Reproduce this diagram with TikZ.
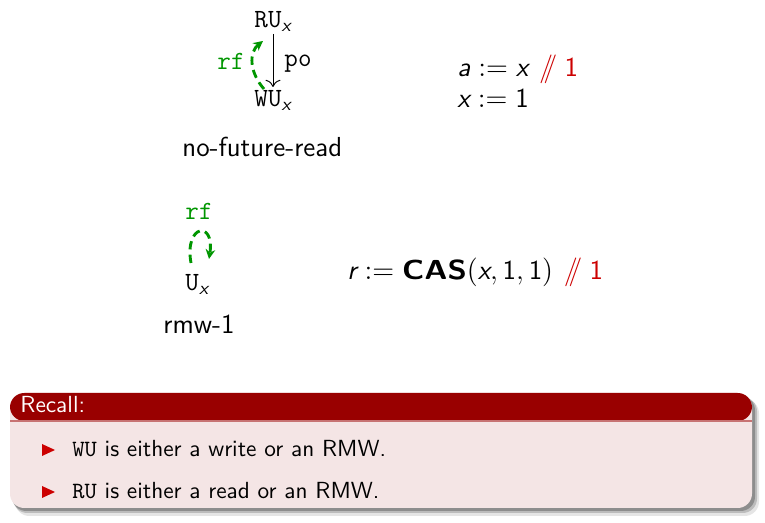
\documentclass[tikz,border=0pt]{standalone}
\usepackage{amsmath}
\usetikzlibrary{arrows.meta}
\definecolor{rfgreen}{RGB}{0,150,0}
\definecolor{alertred}{RGB}{204,0,0}
\definecolor{blocktitle}{RGB}{153,0,0}
\definecolor{blockbody}{RGB}{244,229,229}
\newcommand{\evt}[2]{\texttt{#1}$_{\textsf{\slshape #2}}$}
\newcommand{\cmt}{\textcolor{alertred}{$/\!\!/$\hspace{3pt}1}}
\newcommand{\bodysize}{\fontsize{11.5}{14}\selectfont}
\newcommand{\blocksize}{\fontsize{9.75}{12}\selectfont}
\begin{document}
\begin{tikzpicture}[x=0.4184pt,y=-0.4184pt,
  every node/.style={inner sep=0pt, anchor=base west,
    font=\sffamily\bodysize},
  ttnode/.style={font=\ttfamily\fontsize{11}{13.6}\selectfont},
  rflink/.style={rfgreen, line width=1.2pt, dash pattern=on 3.5pt off 2.2pt, -{Stealth[length=4pt,width=4pt]}},
  polink/.style={black, line width=0.4pt, -{To[length=3pt]}},
  rflabel/.style={ttnode, text=rfgreen},
  blocktext/.style={font=\sffamily\blocksize},
  bullet/.style={fill=alertred}]
\useasboundingbox (0,0) rectangle (765,523);

% no-future-read
\node[ttnode] (ru) at (254,28) {\evt{RU}{x}};
\node[ttnode] (wu) at (254,107) {\evt{WU}{x}};
\draw[polink] (273,34) -- (273,87);
\node[ttnode] (po) at (284,67) {po};
\draw[rflink] (264,89) .. controls (249,72) and (249,52) .. (263,41);
\node[rflabel] (rf1) at (217,70) {rf};
\node (c1) at (457,77) {$\textsl{a} \mathrel{:=} \textsl{x}$\hspace{4.5pt}\cmt};
\node (c2) at (457,108) {$\textsl{x} \mathrel{:=} \text{1}$};
\node (t1) at (182,157) {no-future-read};

% rmw-1
\node[rflabel] (rf2) at (185,220) {rf};
\node[ttnode] (u) at (185,291) {\evt{U}{x}};
\draw[rflink] (191,263) .. controls (184,224) and (215,220) .. (209,259);
\node (c3) at (347,280) {$\textsl{r} \mathrel{:=} \scalebox{1.15}[1]{\textbf{CAS}}(\textsl{x}, \text{1}, \text{1})$\hspace{4.5pt}\cmt};
\node (t2) at (163,334) {rmw-1};

% Recall block with its shadow
\fill[black, opacity=0.10, rounded corners=6pt] (15,399) rectangle (759,516);
\fill[black, opacity=0.18, rounded corners=6pt] (13,397) rectangle (757,513);
\fill[black, opacity=0.25, rounded corners=6pt] (12,396) rectangle (755,511);
\fill[blockbody, rounded corners=6pt] (10,393) rectangle (752,508);
\fill[blocktitle, rounded corners=6pt] (10,393) rectangle (752,421);
\fill[blockbody] (10,421) rectangle (752,428);
\fill[blocktitle!55!white] (10,420) rectangle (752,422);
\node[blocktext, text=white] (rt) at (20,413) {Recall:};
\fill[bullet] (42,444) -- (55,450) -- (42,456) -- cycle;
\node[blocktext] (b1) at (72,457) {\texttt{WU} is either a write or an RMW.};
\fill[bullet] (42,486) -- (55,492) -- (42,498) -- cycle;
\node[blocktext] (b2) at (72,499) {\texttt{RU} is either a read or an RMW.};
\end{tikzpicture}
\end{document}
